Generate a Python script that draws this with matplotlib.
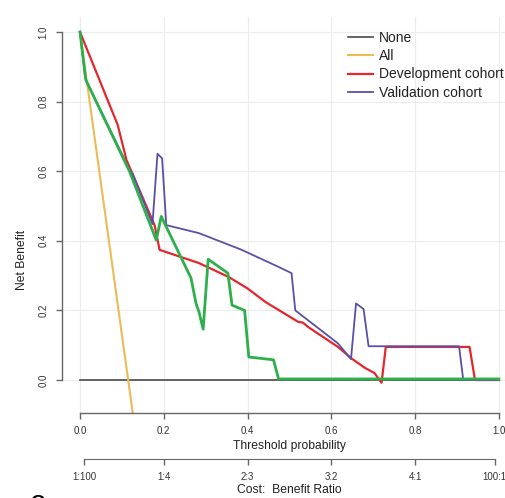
import matplotlib
matplotlib.use("Agg")
import matplotlib.pyplot as plt

plt.rcParams['font.family'] = ['Liberation Sans', 'DejaVu Sans']

# ---- data ----
thresholds_ticks = [0.0, 0.2, 0.4, 0.6, 0.8, 1.0]
ratio_ticks = [0.01, 0.2, 0.4, 0.6, 0.8, 0.99]
ratio_labels = ["1:100", "1:4", "2:3", "3:2", "4:1", "100:1"]
y_ticks = [0.0, 0.2, 0.4, 0.6, 0.8, 1.0]

none_x = [0.0, 1.0]
none_y = [0.0, 0.0]

all_x = [0.0, 0.13]
all_y = [1.0, -0.13]

dev_x = [0.0, 0.09, 0.111, 0.178, 0.19, 0.284, 0.355, 0.40, 0.443, 0.521,
         0.532, 0.545, 0.616, 0.647, 0.68, 0.703, 0.72, 0.73, 0.93, 0.943, 1.0]
dev_y = [1.0, 0.733, 0.632, 0.445, 0.374, 0.336, 0.296, 0.263, 0.224, 0.167,
         0.165, 0.152, 0.095, 0.063, 0.035, 0.02, -0.008, 0.095, 0.095, 0.0, 0.0]

val_x = [0.0, 0.012, 0.015, 0.12, 0.125, 0.173, 0.185, 0.196, 0.206, 0.284,
         0.386, 0.474, 0.505, 0.514, 0.616, 0.647, 0.659, 0.677, 0.689, 0.905,
         0.915, 1.0]
val_y = [1.0, 0.87, 0.86, 0.60, 0.595, 0.448, 0.65, 0.637, 0.445, 0.422,
         0.374, 0.325, 0.307, 0.2, 0.105, 0.06, 0.22, 0.204, 0.097, 0.097,
         0.0, 0.0]

other_x = [0.0, 0.014, 0.118, 0.182, 0.194, 0.265, 0.277, 0.284, 0.294, 0.306,
           0.353, 0.363, 0.393, 0.403, 0.462, 0.474, 1.0]
other_y = [1.0, 0.862, 0.60, 0.402, 0.47, 0.293, 0.22, 0.196, 0.146, 0.347,
           0.307, 0.215, 0.2, 0.066, 0.058, 0.003, 0.003]

# ---- figure ----
fig = plt.figure(figsize=(5.06, 4.98), dpi=100)
ax = fig.add_axes([0.1225, 0.1707, 0.899, 0.7944])

ax.set_xlim(-0.043, 1.043)
ax.set_ylim(-0.0948, 1.042)

ax.grid(True, color="#ececec", lw=0.8)
ax.set_axisbelow(True)

ax.plot(none_x, none_y, color="#4a4a4a", lw=1.2, label="None")
ax.plot(all_x, all_y, color="#ebbb58", lw=1.5, label="All")
ax.plot(dev_x, dev_y, color="#e3272c", lw=1.6, label="Development cohort")
ax.plot(val_x, val_y, color="#5a50a8", lw=1.3, label="Validation cohort")
ax.plot(other_x, other_y, color="#2db04b", lw=2.0)

for s in ["top", "right"]:
    ax.spines[s].set_visible(False)
ax.spines["left"].set_bounds(0, 1)
ax.spines["bottom"].set_bounds(0, 1)
for s in ["left", "bottom"]:
    ax.spines[s].set_color("#666666")
    ax.spines[s].set_linewidth(1.0)

ax.set_xticks(thresholds_ticks)
ax.set_xticklabels(["0.0", "0.2", "0.4", "0.6", "0.8", "1.0"])
ax.set_yticks(y_ticks)
ax.set_yticklabels(["0.0", "0.2", "0.4", "0.6", "0.8", "1.0"], rotation=90, va="center")
ax.tick_params(axis="both", length=4.5, width=1.0, color="#666666",
               labelsize=7, labelcolor="#333333", pad=5)

sec = ax.secondary_xaxis(-0.1163)
sec.set_xticks(ratio_ticks)
sec.set_xticklabels(ratio_labels)
sec.tick_params(length=4.5, width=1.0, color="#666666",
                labelsize=7, labelcolor="#333333", pad=5)
sec.spines["bottom"].set_bounds(0.01, 0.99)
sec.spines["bottom"].set_color("#666666")

fig.text(0.572, 0.1044, "Threshold probability", ha="center", va="center",
         fontsize=8.7, color="#222222")
fig.text(0.572, 0.016, "Cost:  Benefit Ratio", ha="center", va="center",
         fontsize=8.7, color="#222222")
fig.text(0.0435, 0.478, "Net Benefit", ha="center", va="center", rotation=90,
         fontsize=8.7, color="#222222")
fig.text(0.06, 0.006, "C", ha="left", va="top", fontsize=14, fontweight="bold")

leg = ax.legend(loc="upper left", bbox_to_anchor=(0.6066, 0.99), frameon=False,
                fontsize=10, handlelength=1.8, handletextpad=0.45,
                labelspacing=0.3, borderaxespad=0.3)
for t in leg.get_texts():
    t.set_color("#222222")

fig.savefig("out.png", dpi=100)
